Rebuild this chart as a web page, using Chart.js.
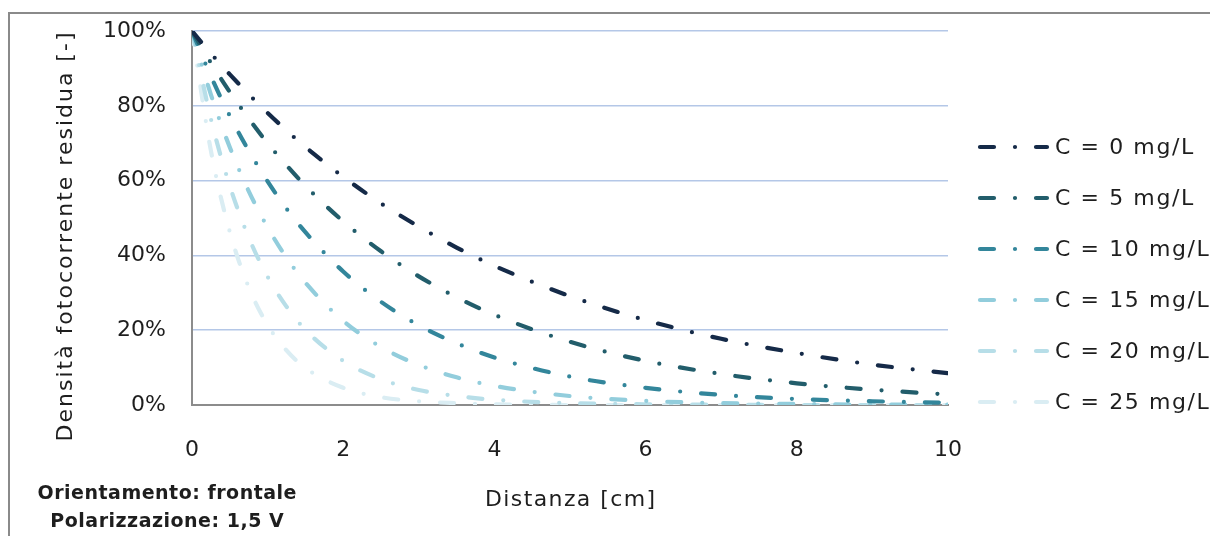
<!DOCTYPE html>
<html>
<head>
<meta charset="utf-8">
<script src="https://cdn.jsdelivr.net/npm/chart.js@4.4.1/dist/chart.umd.min.js"></script>
<style>
  html, body { margin: 0; padding: 0; background: #fff; overflow: hidden; }
  #wrap { width: 1210px; height: 536px; position: relative; }
</style>
</head>
<body>
<div id="wrap"><canvas id="chart" width="1210" height="536"></canvas></div>
<script>
// Distance from the source [cm]
const distances = [0, 0.25, 0.5, 0.75, 1, 1.25, 1.5, 2, 2.5, 3, 3.5, 4, 5, 6, 7, 8, 9, 10];

// Residual photocurrent density [%] for each concentration
const c0  = [100, 94.0, 88.4, 83.1, 78.1, 73.4, 69.0, 61.0, 53.9, 47.7, 42.1, 37.2, 29.1, 22.7, 17.7, 13.9, 10.8, 8.5];
const c5  = [100, 91.5, 83.7, 76.6, 70.0, 64.1, 58.6, 49.1, 41.1, 34.4, 28.8, 24.1, 16.9, 11.8, 8.3, 5.8, 4.1, 2.8];
const c10 = [100, 87.9, 77.3, 68.0, 59.8, 52.5, 46.2, 35.7, 27.6, 21.3, 16.5, 12.7, 7.6, 4.6, 2.7, 1.6, 1.0, 0.6];
const c15 = [100, 83.0, 68.9, 57.2, 47.5, 39.4, 32.7, 22.5, 15.5, 10.7, 7.4, 5.1, 2.4, 1.1, 0.5, 0.3, 0.1, 0.1];
const c20 = [100, 76.5, 58.6, 44.8, 34.3, 26.3, 20.1, 11.8, 6.9, 4.0, 2.4, 1.4, 0.5, 0.2, 0.1, 0.0, 0.0, 0.0];
const c25 = [100, 68.0, 46.3, 31.5, 21.4, 14.6, 9.9, 4.6, 2.1, 1.0, 0.5, 0.2, 0.0, 0.0, 0.0, 0.0, 0.0, 0.0];

const seriesLabels = ['C = 0 mg/L', 'C = 5 mg/L', 'C = 10 mg/L', 'C = 15 mg/L', 'C = 20 mg/L', 'C = 25 mg/L'];
const seriesValues = [c0, c5, c10, c15, c20, c25];
const seriesColors = ['#152a48', '#225d6b', '#33869b', '#92cddc', '#b7dee8', '#daedf3'];

const xTickStep = 2;
const yTickStep = 20;
const xTitle = 'Distanza [cm]';
const yTitle = 'Densità fotocorrente residua [-]';
const noteLines = ['Orientamento: frontale', 'Polarizzazione: 1,5 V'];

const FONT = "'DejaVu Sans', sans-serif";
const TEXT_COLOR = '#1e1e1e';
const DASH = [14, 21, 0, 21];
const LINE_W = 4.2;

const datasets = seriesValues.map((vals, i) => ({
  label: seriesLabels[i],
  data: distances.map((d, j) => ({ x: d, y: vals[j] })),
  borderColor: seriesColors[i],
  backgroundColor: seriesColors[i],
  borderWidth: LINE_W,
  borderDash: DASH,
  borderCapStyle: 'round',
  borderJoinStyle: 'round',
  pointRadius: 0,
  cubicInterpolationMode: 'monotone',
  fill: false
}));

function drawText(ctx, text, x, y, font, spacing, align) {
  ctx.save();
  ctx.font = font;
  ctx.fillStyle = TEXT_COLOR;
  ctx.textBaseline = 'middle';
  ctx.letterSpacing = spacing + 'px';
  const w = ctx.measureText(text).width;
  let start = x;
  if (align === 'center') start = x - (w - spacing) / 2;
  ctx.textAlign = 'left';
  ctx.fillText(text, start, y);
  ctx.restore();
}

// Frame, axis titles, legend and note
const decor = {
  id: 'decor',
  beforeDraw(chart) {
    const ctx = chart.ctx;
    ctx.save();
    ctx.fillStyle = '#ffffff';
    ctx.fillRect(0, 0, chart.width, chart.height);
    ctx.strokeStyle = '#8a8a8a';
    ctx.lineWidth = 2;
    ctx.strokeRect(9, 13, 1400, 700);
    ctx.restore();
  },
  afterDraw(chart) {
    const ctx = chart.ctx;
    const area = chart.chartArea;

    // y axis title
    ctx.save();
    ctx.translate(66, 237);
    ctx.rotate(-Math.PI / 2);
    drawText(ctx, yTitle, 0, 0, "22px " + FONT, 2.0, 'center');
    ctx.restore();

    // x axis title
    drawText(ctx, xTitle, (area.left + area.right) / 2, 500, "22px " + FONT, 1.4, 'center');

    // legend
    ctx.save();
    chart.data.datasets.forEach((ds, i) => {
      const y = 147 + 51 * i;
      ctx.strokeStyle = ds.borderColor;
      ctx.lineWidth = ds.borderWidth;
      ctx.lineCap = 'round';
      ctx.setLineDash(ds.borderDash);
      ctx.beginPath();
      ctx.moveTo(980, y);
      ctx.lineTo(1047, y);
      ctx.stroke();
      ctx.setLineDash([]);
      drawText(ctx, ds.label, 1055, y + 1, "22px " + FONT, 1.6, 'left');
    });
    ctx.restore();

    // note
    drawText(ctx, noteLines[0], 167, 494, "bold 19px " + FONT, 0.5, 'center');
    drawText(ctx, noteLines[1], 167, 522, "bold 19px " + FONT, 0.5, 'center');
  }
};

new Chart(document.getElementById('chart'), {
  type: 'line',
  data: { datasets },
  options: {
    responsive: false,
    animation: false,
    devicePixelRatio: 1,
    layout: { padding: { top: 31, right: 262, left: 0, bottom: 0 } },
    plugins: { legend: { display: false }, tooltip: { enabled: false } },
    scales: {
      x: {
        type: 'linear',
        min: 0,
        max: 10,
        ticks: { stepSize: xTickStep, color: TEXT_COLOR, font: { family: FONT, size: 22 }, padding: 32, maxRotation: 0 },
        grid: { display: false, drawTicks: false },
        border: { display: true, color: '#8c8c8c', width: 2 },
        afterFit(scale) {
          scale.height = 131;
          scale.paddingLeft = 0;
          scale.paddingRight = 0;
        }
      },
      y: {
        min: 0,
        max: 100,
        ticks: { stepSize: yTickStep, color: TEXT_COLOR, font: { family: FONT, size: 22 }, padding: 26, callback: v => v + '%' },
        grid: { color: '#b4c7e7', lineWidth: 1.5, drawTicks: false },
        border: { display: true, color: '#8c8c8c', width: 2 },
        afterFit(scale) {
          scale.width = 192;
          scale.paddingTop = 0;
          scale.paddingBottom = 0;
        }
      }
    }
  },
  plugins: [decor]
});
</script>
</body>
</html>
